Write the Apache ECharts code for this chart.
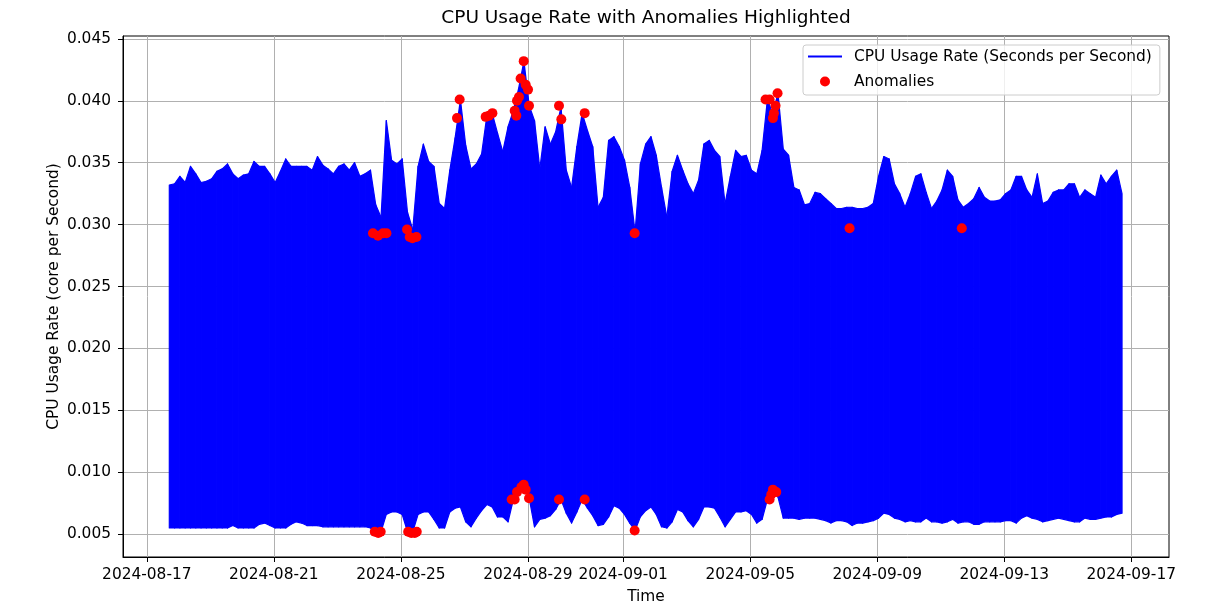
<!DOCTYPE html>
<html>
<head>
<meta charset="utf-8">
<title>CPU Usage Rate with Anomalies Highlighted</title>
<script src="https://cdn.jsdelivr.net/npm/echarts@6/dist/echarts.min.js"></script>
<style>
  html, body { margin: 0; padding: 0; background: #fff; }
  #chart { width: 1212px; height: 614px; }
</style>
</head>
<body>
<div id="chart"></div>
<script>
const sampleStart = '2024-08-17T17:00:00Z'
const sampleStepHours = 4

const upperValues = [
  0.0332, 0.0333, 0.0339, 0.0334, 0.0347, 0.0341, 0.0334, 0.0335, 0.0337, 0.0343,
  0.0345, 0.0349, 0.0341, 0.0337, 0.0340, 0.0341, 0.0351, 0.0347, 0.0347, 0.0341,
  0.0334, 0.0343, 0.0353, 0.0347, 0.0347, 0.0347, 0.0347, 0.0344, 0.0355, 0.0348,
  0.0345, 0.0341, 0.0347, 0.0349, 0.0344, 0.0350, 0.0339, 0.0341, 0.0344, 0.0316,
  0.0306, 0.0384, 0.0352, 0.0349, 0.0353, 0.0310, 0.0296, 0.0347, 0.0365, 0.0351,
  0.0347, 0.0317, 0.0313, 0.0344, 0.0370, 0.0401, 0.0364, 0.0345, 0.0349, 0.0357,
  0.0388, 0.0390, 0.0374, 0.0359, 0.0379, 0.0392, 0.0410, 0.0432, 0.0396, 0.0384,
  0.0345, 0.0379, 0.0365, 0.0375, 0.0395, 0.0344, 0.0330, 0.0363, 0.0390, 0.0376,
  0.0363, 0.0314, 0.0322, 0.0368, 0.0371, 0.0363, 0.0352, 0.0330, 0.0294, 0.0349,
  0.0365, 0.0371, 0.0356, 0.0330, 0.0306, 0.0343, 0.0356, 0.0344, 0.0333, 0.0325,
  0.0336, 0.0365, 0.0368, 0.0360, 0.0355, 0.0317, 0.0339, 0.0360, 0.0355, 0.0356,
  0.0344, 0.0341, 0.0360, 0.0401, 0.0390, 0.0406, 0.0361, 0.0356, 0.0330, 0.0328,
  0.0316, 0.0317, 0.0326, 0.0325, 0.0321, 0.0317, 0.0313, 0.0313, 0.0314, 0.0314,
  0.0313, 0.0313, 0.0314, 0.0317, 0.0339, 0.0355, 0.0353, 0.0333, 0.0325, 0.0314,
  0.0325, 0.0339, 0.0341, 0.0326, 0.0313, 0.0319, 0.0328, 0.0344, 0.0339, 0.0320,
  0.0314, 0.0317, 0.0321, 0.0330, 0.0322, 0.0319, 0.0319, 0.0320, 0.0325, 0.0328,
  0.0339, 0.0339, 0.0328, 0.0322, 0.0341, 0.0317, 0.0319, 0.0326, 0.0328, 0.0328,
  0.0333, 0.0333, 0.0322, 0.0328, 0.0325, 0.0322, 0.0340, 0.0333, 0.0339, 0.0344,
  0.0325
]

const lowerValues = [
  0.0055, 0.0055, 0.0055, 0.0055, 0.0055, 0.0055, 0.0055, 0.0055, 0.0055, 0.0055,
  0.0055, 0.0055, 0.0057, 0.0055, 0.0055, 0.0055, 0.0055, 0.0058, 0.0059, 0.0057,
  0.0055, 0.0055, 0.0055, 0.0058, 0.0060, 0.0059, 0.0057, 0.0057, 0.0057, 0.0056,
  0.0056, 0.0056, 0.0056, 0.0056, 0.0056, 0.0056, 0.0056, 0.0056, 0.0055, 0.0052,
  0.0052, 0.0066, 0.0068, 0.0068, 0.0066, 0.0052, 0.0052, 0.0066, 0.0068, 0.0068,
  0.0062, 0.0055, 0.0055, 0.0068, 0.0071, 0.0072, 0.0060, 0.0056, 0.0063, 0.0069,
  0.0074, 0.0072, 0.0064, 0.0064, 0.0060, 0.0078, 0.0084, 0.0090, 0.0079, 0.0056,
  0.0062, 0.0063, 0.0065, 0.0070, 0.0078, 0.0067, 0.0059, 0.0068, 0.0078, 0.0071,
  0.0065, 0.0057, 0.0058, 0.0064, 0.0073, 0.0071, 0.0066, 0.0059, 0.0053, 0.0064,
  0.0069, 0.0072, 0.0066, 0.0056, 0.0055, 0.0060, 0.0070, 0.0068, 0.0061, 0.0056,
  0.0062, 0.0072, 0.0072, 0.0071, 0.0064, 0.0056, 0.0062, 0.0068, 0.0068, 0.0069,
  0.0066, 0.0059, 0.0062, 0.0078, 0.0086, 0.0080, 0.0063, 0.0063, 0.0063, 0.0062,
  0.0063, 0.0063, 0.0063, 0.0062, 0.0061, 0.0059, 0.0061, 0.0061, 0.0060, 0.0057,
  0.0059, 0.0059, 0.0060, 0.0061, 0.0063, 0.0067, 0.0066, 0.0063, 0.0062, 0.0060,
  0.0061, 0.0060, 0.0060, 0.0063, 0.0060, 0.0060, 0.0059, 0.0060, 0.0062, 0.0059,
  0.0060, 0.0060, 0.0058, 0.0058, 0.0060, 0.0060, 0.0060, 0.0060, 0.0061, 0.0061,
  0.0059, 0.0063, 0.0065, 0.0063, 0.0062, 0.0060, 0.0061, 0.0062, 0.0063, 0.0062,
  0.0061, 0.0060, 0.0060, 0.0063, 0.0062, 0.0062, 0.0063, 0.0064, 0.0064, 0.0066,
  0.0067
]

const anomalies = [
  ['2024-08-24T02:55', 0.0293], ['2024-08-24T04:15', 0.0052], ['2024-08-24T06:45', 0.0291],
  ['2024-08-24T06:55', 0.0051], ['2024-08-24T08:45', 0.0052], ['2024-08-24T10:30', 0.0293],
  ['2024-08-24T13:05', 0.0293],
  ['2024-08-25T04:40', 0.0296], ['2024-08-25T05:30', 0.0052], ['2024-08-25T06:40', 0.0290],
  ['2024-08-25T07:50', 0.0051], ['2024-08-25T08:45', 0.0289], ['2024-08-25T10:30', 0.0051],
  ['2024-08-25T11:45', 0.0290], ['2024-08-25T12:00', 0.0052],
  ['2024-08-26T18:25', 0.0386], ['2024-08-26T20:25', 0.0401],
  ['2024-08-27T16:05', 0.0387], ['2024-08-27T18:35', 0.0388], ['2024-08-27T21:10', 0.0390],
  ['2024-08-28T11:45', 0.0078], ['2024-08-28T14:00', 0.0392], ['2024-08-28T14:00', 0.0078],
  ['2024-08-28T15:15', 0.0388], ['2024-08-28T15:45', 0.0400], ['2024-08-28T15:45', 0.0084],
  ['2024-08-28T17:15', 0.0403], ['2024-08-28T18:30', 0.0418], ['2024-08-28T19:05', 0.0088],
  ['2024-08-28T20:50', 0.0432], ['2024-08-28T20:50', 0.0090], ['2024-08-28T22:20', 0.0413],
  ['2024-08-28T22:20', 0.0086], ['2024-08-29T00:05', 0.0409], ['2024-08-29T00:50', 0.0396],
  ['2024-08-29T00:50', 0.0079],
  ['2024-08-29T23:30', 0.0396], ['2024-08-29T23:30', 0.0078], ['2024-08-30T01:15', 0.0385],
  ['2024-08-30T18:55', 0.0390], ['2024-08-30T18:55', 0.0078],
  ['2024-09-01T08:40', 0.0293], ['2024-09-01T08:40', 0.0053],
  ['2024-09-05T11:35', 0.0401], ['2024-09-05T14:40', 0.0401], ['2024-09-05T14:40', 0.0078],
  ['2024-09-05T15:55', 0.0082], ['2024-09-05T17:10', 0.0386], ['2024-09-05T17:10', 0.0086],
  ['2024-09-05T17:55', 0.0390], ['2024-09-05T19:10', 0.0396], ['2024-09-05T19:40', 0.0084],
  ['2024-09-05T20:40', 0.0406],
  ['2024-09-08T03:05', 0.0297], ['2024-09-11T15:55', 0.0297]
]

const xTickLabels = ['2024-08-17', '2024-08-21', '2024-08-25', '2024-08-29', '2024-09-01',
  '2024-09-05', '2024-09-09', '2024-09-13', '2024-09-17']
const yTickValues = [0.005, 0.010, 0.015, 0.020, 0.025, 0.030, 0.035, 0.040, 0.045]

const font = 'DejaVu Sans'
const blue = '#0000ff'
const red = '#ff0000'
const HOUR = 3600 * 1000

const t0 = Date.parse(sampleStart)
const sampleTimes = upperValues.map((_, i) => t0 + i * sampleStepHours * HOUR)
// one item per sample: [time, lower edge, upper edge]
const bandData = upperValues.map((v, i) => [sampleTimes[i], lowerValues[i], v])
const anomalyData = anomalies.map(([t, v]) => [Date.parse(t + ':00Z'), v])
const xTickValues = xTickLabels.map(d => Date.parse(d + 'T00:00:00Z'))

const chart = echarts.init(document.getElementById('chart'), null, { renderer: 'canvas' })

const axisText = { fontFamily: font, fontSize: 15.4, color: '#000' }

// fill the band between this sample and the next one
const renderBand = (params, api) => {
  const i = params.dataIndex
  if (i >= bandData.length - 1) return null
  const next = bandData[i + 1]
  const points = [
    api.coord([api.value(0), api.value(2)]),
    api.coord([next[0], next[2]]),
    api.coord([next[0], next[1]]),
    api.coord([api.value(0), api.value(1)])
  ]
  return {
    type: 'polygon',
    shape: { points },
    style: { fill: blue, stroke: blue, lineWidth: 1.2, lineJoin: 'round' }
  }
}

const option = {
  animation: false,
  textStyle: { fontFamily: font },
  title: {
    text: 'CPU Usage Rate with Anomalies Highlighted',
    left: 646,
    top: 9,
    textAlign: 'center',
    padding: 0,
    textStyle: { fontFamily: font, fontSize: 18.5, fontWeight: 'normal', color: '#000' }
  },
  legend: {
    left: 803,
    top: 45,
    orient: 'vertical',
    padding: [4, 8, 6, 5],
    itemWidth: 34,
    itemHeight: 10,
    itemGap: 10,
    symbolKeepAspect: true,
    backgroundColor: 'rgba(255,255,255,0.8)',
    borderColor: '#cccccc',
    borderWidth: 1,
    borderRadius: 3,
    selectedMode: false,
    textStyle: { fontFamily: font, fontSize: 15.4, color: '#000', padding: [0, 0, 0, 7] },
    data: [
      { name: 'CPU Usage Rate (Seconds per Second)', icon: 'path://M0,0H34V2H0Z', itemStyle: { color: blue } },
      { name: 'Anomalies', icon: 'circle', itemStyle: { color: red } }
    ]
  },
  grid: {
    left: 123,
    right: 43,
    top: 36,
    bottom: 57,
    show: true,
    borderColor: '#000',
    borderWidth: 1,
    containLabel: false,
    outerBoundsMode: 'none'
  },
  xAxis: {
    type: 'value',
    min: Date.parse('2024-08-16T06:00:00Z'),
    max: Date.parse('2024-09-18T04:30:00Z'),
    name: 'Time',
    nameLocation: 'middle',
    nameGap: 32,
    nameMoveOverlap: false,
    nameTextStyle: axisText,
    axisLine: { show: true, onZero: false, lineStyle: { color: '#000', width: 1 } },
    axisTick: { show: true, length: 5, customValues: xTickValues, lineStyle: { color: '#000', width: 1 } },
    axisLabel: {
      customValues: xTickValues,
      formatter: v => new Date(v).toISOString().slice(0, 10),
      margin: 10,
      ...axisText
    },
    splitLine: { show: true, lineStyle: { color: '#b0b0b0', width: 1 } }
  },
  yAxis: {
    type: 'value',
    min: 0.00316,
    max: 0.04523,
    name: 'CPU Usage Rate (core per Second)',
    nameLocation: 'middle',
    nameGap: 62,
    nameRotate: 90,
    nameMoveOverlap: false,
    nameTextStyle: axisText,
    axisLine: { show: true, onZero: false, lineStyle: { color: '#000', width: 1 } },
    axisTick: { show: true, length: 5, customValues: yTickValues, lineStyle: { color: '#000', width: 1 } },
    axisLabel: {
      customValues: yTickValues,
      formatter: v => v.toFixed(3),
      margin: 12,
      ...axisText
    },
    splitLine: { show: true, lineStyle: { color: '#b0b0b0', width: 1 } }
  },
  series: [
    {
      name: 'CPU Usage Rate (Seconds per Second)',
      type: 'custom',
      data: bandData,
      encode: { x: 0, y: [1, 2] },
      renderItem: renderBand,
      itemStyle: { color: blue },
      z: 2
    },
    {
      name: 'Anomalies',
      type: 'scatter',
      data: anomalyData,
      symbol: 'circle',
      symbolSize: 10,
      itemStyle: { color: red, opacity: 1 },
      z: 3
    }
  ]
}

chart.setOption(option)

window.addEventListener('resize', () => chart.resize())
</script>
</body>
</html>
